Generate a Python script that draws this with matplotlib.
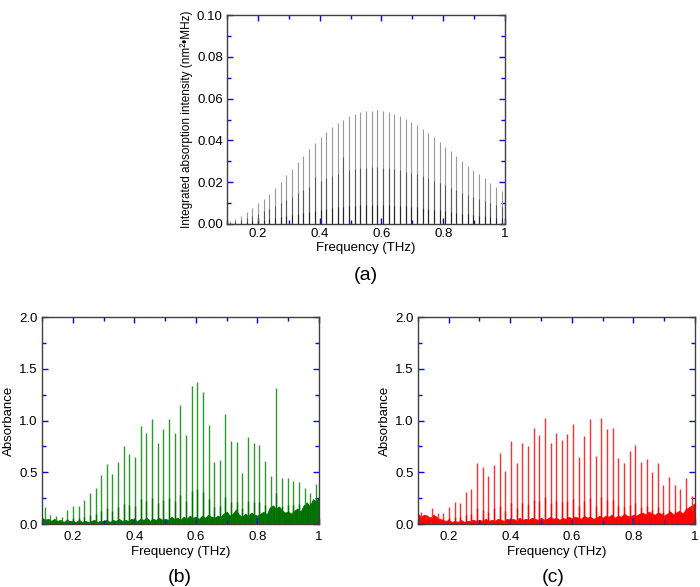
import matplotlib
matplotlib.use('Agg')
import matplotlib.pyplot as plt
from matplotlib.ticker import MultipleLocator, FuncFormatter

# 谱线频率 (THz)
line_freq = [0.109, 0.127, 0.146, 0.164, 0.182, 0.201, 0.219, 0.237, 0.256, 0.274,
             0.292, 0.311, 0.329, 0.347, 0.366, 0.384, 0.403, 0.421, 0.439, 0.458,
             0.476, 0.494, 0.513, 0.531, 0.549, 0.568, 0.586, 0.604, 0.623, 0.641,
             0.659, 0.678, 0.696, 0.714, 0.733, 0.751, 0.770, 0.788, 0.806, 0.825,
             0.843, 0.861, 0.880, 0.898, 0.916, 0.935, 0.953, 0.971, 0.990]

# (a) integrated absorption intensity
intensity_main = [0.0014, 0.0024, 0.0038, 0.0056, 0.0075, 0.0099, 0.0120, 0.0144, 0.0170, 0.0202,
                  0.0234, 0.0262, 0.0295, 0.0327, 0.0357, 0.0386, 0.0415, 0.0440, 0.0463, 0.0483,
                  0.0500, 0.0517, 0.0528, 0.0536, 0.0540, 0.0543, 0.0544, 0.0541, 0.0536, 0.0527,
                  0.0516, 0.0502, 0.0489, 0.0474, 0.0456, 0.0436, 0.0415, 0.0393, 0.0370, 0.0347,
                  0.0325, 0.0300, 0.0279, 0.0258, 0.0237, 0.0218, 0.0198, 0.0179, 0.0160]
intensity_sat1 = [0.0007, 0.0012, 0.0019, 0.0028, 0.0037, 0.0049, 0.0060, 0.0072, 0.0085, 0.0101,
                  0.0117, 0.0131, 0.0147, 0.0163, 0.0178, 0.0225, 0.0207, 0.0220, 0.0231, 0.0241,
                  0.0320, 0.0258, 0.0264, 0.0268, 0.0270, 0.0271, 0.0272, 0.0270, 0.0268, 0.0263,
                  0.0258, 0.0251, 0.0244, 0.0237, 0.0228, 0.0218, 0.0207, 0.0196, 0.0185, 0.0173,
                  0.0162, 0.0150, 0.0139, 0.0129, 0.0118, 0.0109, 0.0099, 0.0089, 0.0080]
intensity_sat2 = [0.0002, 0.0004, 0.0006, 0.0009, 0.0012, 0.0016, 0.0020, 0.0024, 0.0028, 0.0034,
                  0.0039, 0.0044, 0.0049, 0.0054, 0.0059, 0.0064, 0.0069, 0.0073, 0.0077, 0.0080,
                  0.0083, 0.0086, 0.0088, 0.0089, 0.0090, 0.0090, 0.0091, 0.0090, 0.0089, 0.0088,
                  0.0086, 0.0084, 0.0081, 0.0079, 0.0076, 0.0073, 0.0069, 0.0065, 0.0062, 0.0058,
                  0.0054, 0.0050, 0.0046, 0.0043, 0.0039, 0.0036, 0.0033, 0.0030, 0.0027]

# (b) absorbance
peak_b = [0.16, 0.09, 0.08, 0.07, 0.14, 0.17, 0.17, 0.23, 0.30, 0.35,
          0.47, 0.58, 0.48, 0.60, 0.75, 0.68, 0.65, 0.95, 0.88, 1.01,
          0.78, 0.92, 1.01, 0.88, 1.15, 0.86, 1.33, 1.37, 1.28, 0.96,
          0.60, 0.62, 1.06, 0.80, 0.79, 0.49, 0.84, 0.78, 0.76, 0.61,
          0.46, 1.31, 0.44, 0.44, 0.42, 0.41, 0.35, 0.30, 0.39]
sat_b = [0.05, 0.04, 0.04, 0.03, 0.05, 0.05, 0.06, 0.07, 0.09, 0.10,
         0.13, 0.15, 0.13, 0.16, 0.19, 0.18, 0.17, 0.24, 0.22, 0.25,
         0.20, 0.23, 0.25, 0.22, 0.28, 0.22, 0.32, 0.34, 0.31, 0.24,
         0.16, 0.17, 0.26, 0.21, 0.21, 0.15, 0.22, 0.21, 0.21, 0.18,
         0.16, 0.30, 0.17, 0.18, 0.18, 0.19, 0.18, 0.20, 0.25]

# (c) absorbance
peak_c = [0.12, 0.08, 0.15, 0.11, 0.11, 0.16, 0.21, 0.20, 0.31, 0.34,
          0.59, 0.55, 0.465, 0.575, 0.685, 0.51, 0.80, 0.585, 0.78, 0.75,
          0.925, 0.86, 1.025, 0.78, 0.88, 0.815, 0.87, 0.965, 0.65, 0.85,
          1.01, 0.66, 1.025, 0.915, 0.93, 0.64, 0.59, 0.71, 0.76, 0.60,
          0.63, 0.50, 0.59, 0.38, 0.45, 0.375, 0.34, 0.445, 0.27]
sat_c = [0.06, 0.05, 0.06, 0.05, 0.05, 0.06, 0.07, 0.07, 0.09, 0.10,
         0.15, 0.14, 0.12, 0.15, 0.17, 0.13, 0.20, 0.15, 0.20, 0.19,
         0.23, 0.22, 0.26, 0.20, 0.22, 0.21, 0.22, 0.24, 0.17, 0.22,
         0.25, 0.17, 0.26, 0.23, 0.23, 0.17, 0.16, 0.18, 0.20, 0.16,
         0.17, 0.14, 0.16, 0.12, 0.14, 0.13, 0.12, 0.15, 0.14]

# 基线噪声, 0.10 ~ 1.00 THz, 间隔 0.01
noise_freq = [round(0.10 + 0.01 * i, 2) for i in range(91)]
noise_b = [0.06, 0.04, 0.05, 0.03, 0.05, 0.03, 0.04, 0.02, 0.04, 0.03,
           0.03, 0.02, 0.04, 0.02, 0.03, 0.02, 0.03, 0.04, 0.02, 0.03,
           0.03, 0.04, 0.02, 0.04, 0.03, 0.05, 0.03, 0.04, 0.03, 0.05,
           0.04, 0.03, 0.05, 0.04, 0.06, 0.03, 0.05, 0.04, 0.06, 0.04,
           0.05, 0.04, 0.07, 0.05, 0.06, 0.04, 0.07, 0.05, 0.08, 0.06,
           0.07, 0.05, 0.08, 0.06, 0.09, 0.07, 0.06, 0.08, 0.07, 0.10,
           0.12, 0.08, 0.10, 0.14, 0.09, 0.07, 0.10, 0.08, 0.11, 0.09,
           0.08, 0.10, 0.12, 0.09, 0.16, 0.18, 0.15, 0.17, 0.13, 0.11,
           0.12, 0.10, 0.13, 0.15, 0.12, 0.18, 0.21, 0.17, 0.24, 0.22,
           0.26]
noise_c = [0.10, 0.07, 0.09, 0.08, 0.06, 0.09, 0.07, 0.05, 0.04, 0.03,
           0.04, 0.02, 0.03, 0.02, 0.04, 0.02, 0.03, 0.03, 0.04, 0.03,
           0.04, 0.03, 0.05, 0.03, 0.04, 0.03, 0.05, 0.04, 0.03, 0.05,
           0.04, 0.05, 0.03, 0.06, 0.04, 0.05, 0.04, 0.06, 0.05, 0.04,
           0.06, 0.04, 0.05, 0.07, 0.05, 0.06, 0.04, 0.06, 0.05, 0.07,
           0.05, 0.07, 0.06, 0.05, 0.08, 0.06, 0.07, 0.05, 0.06, 0.08,
           0.06, 0.08, 0.07, 0.09, 0.06, 0.08, 0.07, 0.10, 0.08, 0.07,
           0.09, 0.08, 0.10, 0.11, 0.09, 0.12, 0.10, 0.09, 0.11, 0.10,
           0.08, 0.10, 0.12, 0.09, 0.11, 0.13, 0.10, 0.14, 0.16, 0.18,
           0.20]


def style_axes(ax, ymax, ymajor, yminor, yfmt, xpad):
    """
    坐标轴样式: 蓝色内向刻度, 四边都有
    """
    ax.set_xlim(0.1, 1.0)
    ax.set_ylim(0, ymax)
    ax.xaxis.set_major_locator(MultipleLocator(0.2))
    ax.xaxis.set_minor_locator(MultipleLocator(0.1))
    ax.yaxis.set_major_locator(MultipleLocator(ymajor))
    ax.yaxis.set_minor_locator(MultipleLocator(yminor))
    ax.xaxis.set_major_formatter(FuncFormatter(lambda v, p: '1' if abs(v - 1) < 1e-6 else f'{v:.1f}'))
    ax.yaxis.set_major_formatter(FuncFormatter(lambda v, p: yfmt.format(v)))
    ax.tick_params(which='both', direction='in', top=True, right=True,
                   color='blue', labelsize=9.5, pad=3)
    ax.tick_params(axis='x', which='both', pad=xpad)
    ax.tick_params(which='major', length=4, width=1)
    ax.tick_params(which='minor', length=3, width=1)
    for sp in ax.spines.values():
        sp.set_color('#404040')
        sp.set_linewidth(1.0)


def panel_a(fig):
    ax = fig.add_axes([0.3243, 0.6184, 0.3971, 0.356])
    ax.vlines(line_freq, 0, intensity_main, colors='0.6', lw=0.8)
    ax.vlines(line_freq, 0, intensity_sat1, colors='0.35', lw=0.8)
    ax.vlines(line_freq, 0, intensity_sat2, colors='0.15', lw=0.8)
    style_axes(ax, 0.1, 0.02, 0.01, '{:.2f}', 3)
    ax.set_xlabel('Frequency (THz)', fontsize=9.5, labelpad=1)
    ax.set_ylabel('Integrated absorption intensity (nm²•MHz)', fontsize=8.5, labelpad=3)
    fig.text(0.523, 0.531, '(a)', ha='center', va='center', fontsize=14)


def panel_spec(fig, rect, peaks, sats, noise, dark, light, label, lx):
    ax = fig.add_axes(rect)
    ax.fill_between(noise_freq, 0, noise, color=dark, lw=0.6, edgecolor=dark)
    ax.vlines(line_freq, 0, peaks, colors=light, lw=1.0)
    ax.vlines(line_freq, 0, sats, colors=dark, lw=1.0)
    style_axes(ax, 2.0, 0.5, 0.25, '{:.1f}', 5)
    ax.set_xlabel('Frequency (THz)', fontsize=9.5, labelpad=2)
    ax.set_ylabel('Absorbance', fontsize=9.5, labelpad=3)
    fig.text(lx, 0.017, label, ha='center', va='center', fontsize=14)


if __name__ == '__main__':
    plt.rcParams['font.family'] = ['Liberation Sans', 'DejaVu Sans']
    fig = plt.figure(figsize=(7, 5.87), dpi=100)
    panel_a(fig)
    panel_spec(fig, [0.06, 0.1073, 0.3957, 0.3526], peak_b, sat_b, noise_b,
               '#007000', '#2a9a2a', '(b)', 0.257)
    panel_spec(fig, [0.597, 0.1073, 0.3957, 0.3526], peak_c, sat_c, noise_c,
               '#ff0000', '#ff3030', '(c)', 0.79)
    fig.savefig('out.png', dpi=100)
    plt.close(fig)
